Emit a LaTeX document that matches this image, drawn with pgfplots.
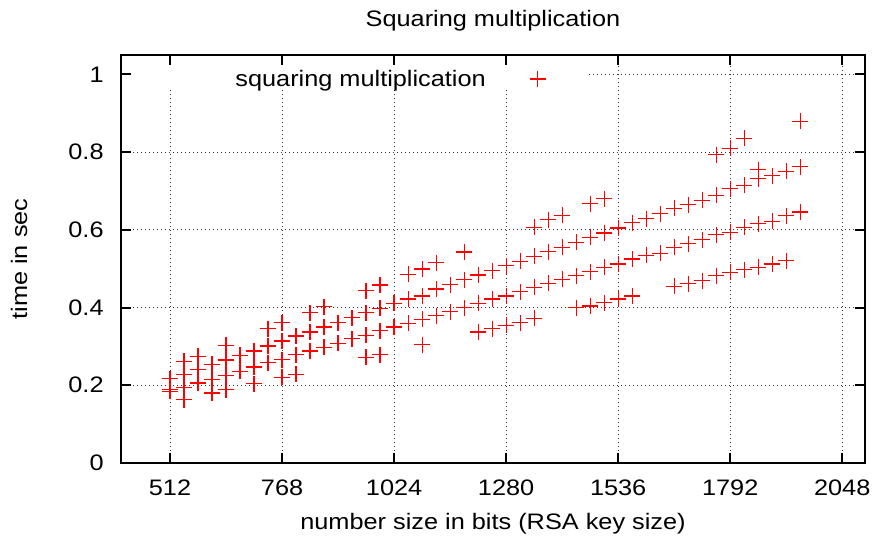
\documentclass[border=0pt]{standalone}
\usepackage{fontspec}
\setmainfont{Liberation Sans}[FakeStretch=1.13]
\usepackage{pgfplots}
\pgfplotsset{compat=1.18}
\usetikzlibrary{calc}
\pgfplotsset{
  layers/mylayers/.define layer set={
    axis background,axis grid,pre main,main,axis descriptions,axis ticks,axis lines,axis tick labels,axis foreground
  }{
    grid style={/pgfplots/on layer=axis grid},
    tick style={/pgfplots/on layer=axis ticks},
    axis line style={/pgfplots/on layer=axis lines},
    label style={/pgfplots/on layer=axis descriptions},
    legend style={/pgfplots/on layer=axis descriptions},
    title style={/pgfplots/on layer=axis descriptions},
    colorbar style={/pgfplots/on layer=axis descriptions},
    ticklabel style={/pgfplots/on layer=axis tick labels},
    axis background@ style={/pgfplots/on layer=axis background},
    3d box foreground style={/pgfplots/on layer=axis foreground},
  },
}
\begin{document}
\fontsize{11.2}{13}\selectfont
\begin{tikzpicture}
\begin{axis}[
  set layers=mylayers,
  scale only axis, width=372pt, height=204pt,
  xmin=400, xmax=2100, ymin=0, ymax=1.05,
  xtick={512,768,1024,1280,1536,1792,2048},
  ytick={0,0.2,0.4,0.6,0.8,1},
  /pgf/number format/assume math mode=true,
  /pgf/number format/1000 sep={},
  tick align=inside, xtick pos=both, ytick pos=both,
  major tick length=5pt,
  tick style={line width=1pt, black},
  axis line style={line width=1pt},
  grid=major,
  major grid style={line width=0.5pt, black!80, dash pattern=on 0.5pt off 1.5pt},
  xticklabel style={anchor=base, yshift=-16.5pt, inner sep=0pt},
  yticklabel style={anchor=east, xshift=-8.5pt, inner sep=0pt},
  title={Squaring multiplication},
  title style={at={(axis description cs:0.5,1.0405)}, anchor=base, inner sep=0pt},
  xlabel={number size in bits (RSA key size)},
  xlabel style={at={(axis description cs:0.5,-0.1618)}, anchor=base, inner sep=0pt},
  ylabel={time in sec},
  ylabel style={at={(axis description cs:-0.1263,0.5)}, anchor=base, inner sep=0pt},
  legend plot pos=right,
  legend cell align=right,
  legend image post style={yshift=-3.25pt},
  legend style={at={(axis description cs:0,1)}, anchor=north west,
    fill=white, draw=none, inner xsep=21pt, inner ysep=0pt, nodes={inner sep=0pt},
    /tikz/every odd column/.append style={column sep=22pt}},
]
\coordinate (ll) at (rel axis cs:0,0);
\coordinate (ur) at (rel axis cs:1,1);
\addplot[only marks, mark=+, mark size=4pt, red, mark options={line width=0.6pt}] table[x=x, y=y] {
x y
512 0.217
512 0.189
512 0.184
544 0.262
544 0.228
544 0.195
544 0.163
576 0.275
576 0.241
576 0.206
608 0.254
608 0.215
608 0.180
640 0.303
640 0.265
640 0.225
640 0.189
672 0.277
672 0.236
704 0.288
704 0.247
704 0.204
736 0.346
736 0.301
736 0.258
768 0.361
768 0.314
768 0.266
768 0.221
800 0.327
800 0.279
800 0.228
832 0.387
832 0.337
832 0.288
864 0.402
864 0.350
864 0.298
896 0.361
896 0.308
928 0.374
928 0.320
960 0.443
960 0.387
960 0.329
960 0.272
992 0.458
992 0.398
992 0.340
992 0.279
1024 0.411
1024 0.350
1056 0.486
1056 0.422
1056 0.359
1088 0.499
1088 0.430
1088 0.370
1088 0.304
1120 0.515
1120 0.448
1120 0.379
1152 0.459
1152 0.389
1184 0.543
1184 0.472
1184 0.400
1216 0.484
1216 0.411
1216 0.337
1248 0.495
1248 0.422
1248 0.346
1280 0.508
1280 0.430
1280 0.354
1312 0.519
1312 0.441
1312 0.361
1344 0.607
1344 0.532
1344 0.452
1344 0.372
1376 0.626
1376 0.544
1376 0.462
1408 0.637
1408 0.555
1408 0.473
1440 0.568
1440 0.482
1440 0.400
1472 0.667
1472 0.581
1472 0.492
1472 0.404
1504 0.680
1504 0.592
1504 0.504
1504 0.413
1536 0.605
1536 0.512
1536 0.422
1568 0.618
1568 0.525
1568 0.430
1600 0.629
1600 0.534
1632 0.642
1632 0.540
1664 0.655
1664 0.555
1664 0.455
1696 0.665
1696 0.564
1696 0.461
1728 0.676
1728 0.575
1728 0.469
1760 0.793
1760 0.689
1760 0.587
1760 0.482
1792 0.810
1792 0.706
1792 0.594
1792 0.491
1824 0.836
1824 0.715
1824 0.607
1824 0.497
1856 0.755
1856 0.732
1856 0.616
1856 0.504
1888 0.739
1888 0.622
1888 0.512
1920 0.751
1920 0.636
1920 0.521
1952 0.879
1952 0.762
1952 0.646
};
\addlegendentry{\hspace*{36pt}\rule{0pt}{15.5pt}squaring multiplication}
\end{axis}
\pgfresetboundingbox
\path[use as bounding box] ($(ll)+(-60.5pt,-37.5pt)$) rectangle ($(ur)+(5.5pt,27.5pt)$);
\end{tikzpicture}
\end{document}
